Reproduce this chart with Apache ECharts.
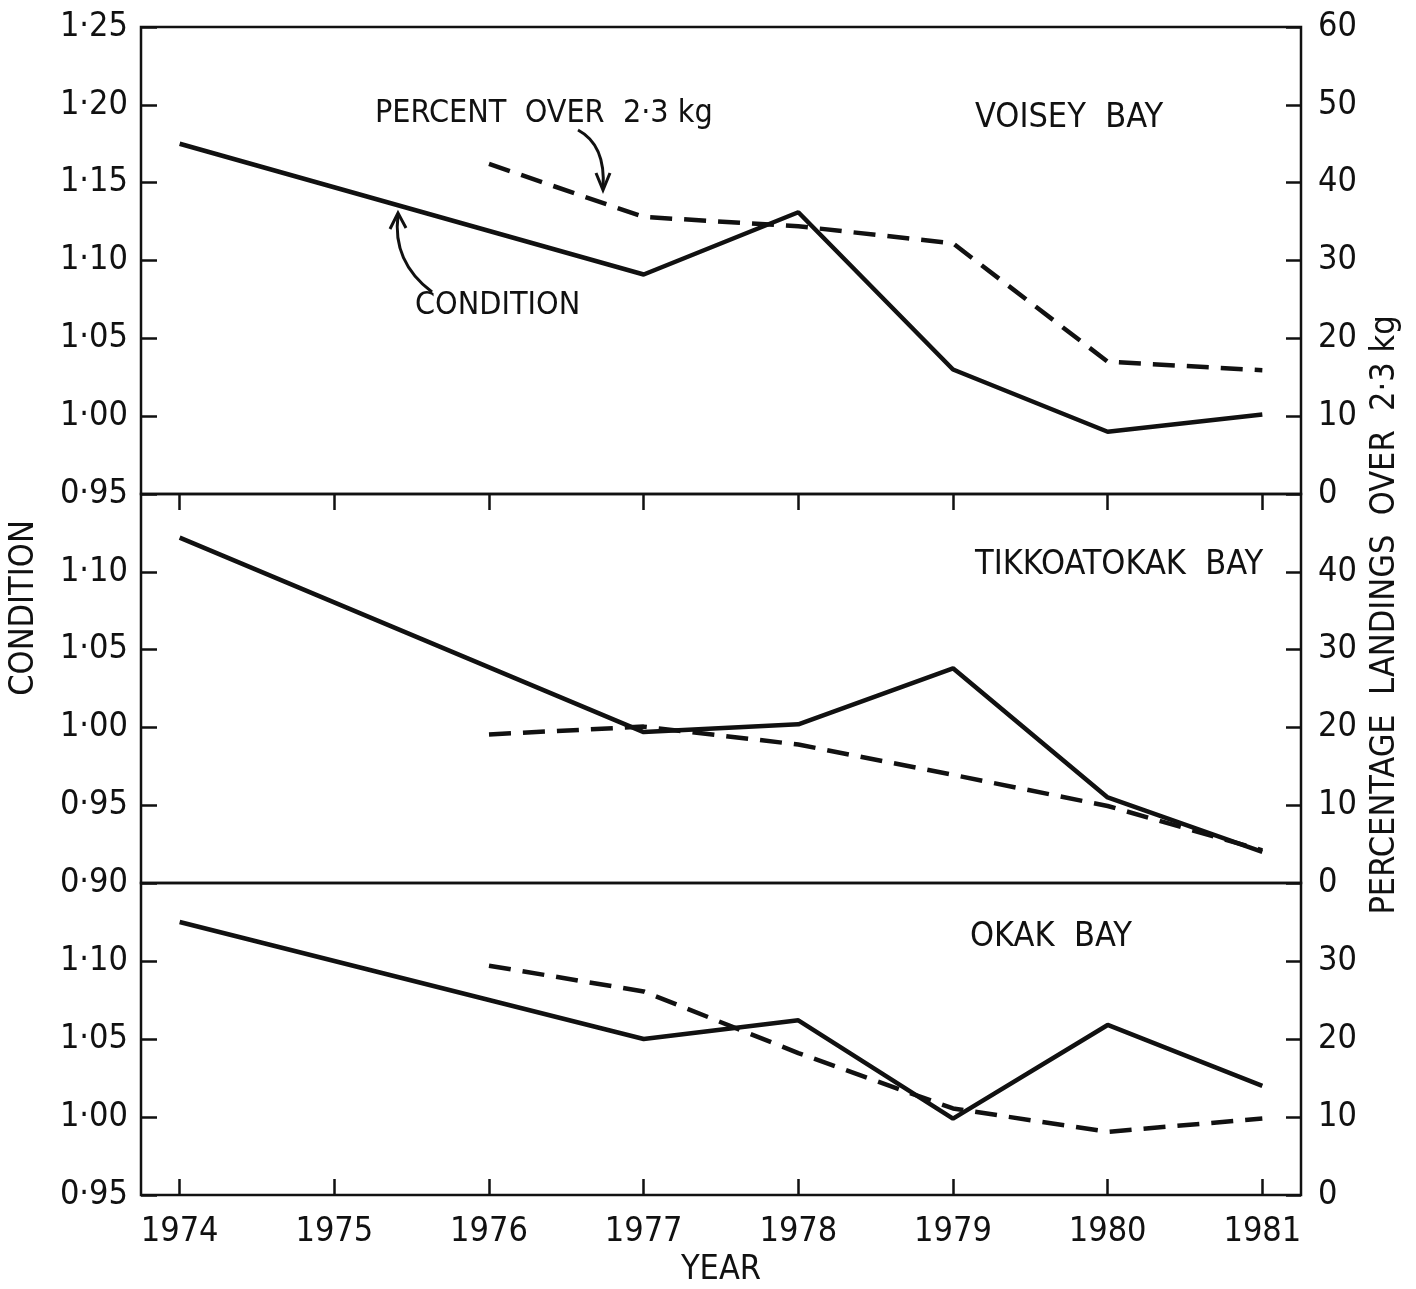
<!DOCTYPE html>
<html>
<head>
<meta charset="utf-8">
<title>Condition and percent landings over 2.3 kg</title>
<script src="https://cdn.jsdelivr.net/npm/echarts@6/dist/echarts.min.js"></script>
<style>
  html, body { margin: 0; padding: 0; background: #fff; }
  #chart { width: 1416px; height: 1289px; }
</style>
</head>
<body>
<div id="chart"></div>
<script>
// years on the shared x axis
const years = [1974, 1975, 1976, 1977, 1978, 1979, 1980, 1981]
const condYears = [1974, 1977, 1978, 1979, 1980, 1981]
const pctYears = [1976, 1977, 1978, 1979, 1980, 1981]

const bayNames = ['VOISEY BAY', 'TIKKOATOKAK BAY', 'OKAK BAY']

// condition (left axis) and percent over 2.3 kg (right axis)
const voiseyCondition = [1.175, 1.091, 1.131, 1.030, 0.990, 1.001]
const voiseyPercent = [42.4, 35.6, 34.4, 32.2, 17.0, 15.9]
const tikkCondition = [1.122, 0.997, 1.002, 1.038, 0.955, 0.920]
const tikkPercent = [19.1, 20.1, 17.8, 13.9, 9.9, 4.2]
const okakCondition = [1.125, 1.050, 1.062, 0.999, 1.059, 1.020]
const okakPercent = [29.4, 26.1, 18.2, 11.1, 8.1, 9.8]

// axis ranges for each panel
const conditionRanges = [[0.95, 1.25], [0.90, 1.15], [0.95, 1.15]]
const percentRanges = [[0, 60], [0, 50], [0, 40]]

const FONT = "'Liberation Sans Narrow', 'DejaVu Sans Condensed', 'DejaVu Sans', sans-serif"
const INK = '#111'

const panelTops = [27, 494, 883]
const panelHeights = [467, 389, 312]

const conditions = [voiseyCondition, tikkCondition, okakCondition]
const percents = [voiseyPercent, tikkPercent, okakPercent]

function pairs(xs, ys) {
  return xs.map((x, k) => [x, ys[k]])
}

const chart = echarts.init(document.getElementById('chart'))

const grid = panelTops.map((top, i) => ({
  left: 141,
  right: 115,
  top: top,
  height: panelHeights[i],
  show: true,
  borderColor: INK,
  borderWidth: 2.5,
  backgroundColor: 'transparent'
}))

const xAxis = panelTops.map((_, i) => ({
  type: 'value',
  gridIndex: i,
  min: 1973.75,
  max: 1981.25,
  position: i === 0 ? 'top' : 'bottom',
  axisLine: { show: false },
  axisTick: {
    show: i !== 1,
    inside: true,
    length: 16,
    customValues: years,
    lineStyle: { color: INK, width: 2.5 }
  },
  axisLabel: {
    show: i === 2,
    customValues: years,
    formatter: v => String(v),
    margin: 20,
    color: INK,
    fontSize: 34,
    fontFamily: FONT
  },
  splitLine: { show: false },
  name: i === 2 ? 'YEAR' : '',
  nameLocation: 'middle',
  nameGap: 58,
  nameTextStyle: { color: INK, fontSize: 34, fontFamily: FONT }
}))

const yAxis = []
panelTops.forEach((_, i) => {
  yAxis.push({
    type: 'value',
    gridIndex: i,
    position: 'left',
    min: conditionRanges[i][0],
    max: conditionRanges[i][1],
    interval: 0.05,
    axisLine: { show: false },
    axisTick: { inside: true, length: 16, lineStyle: { color: INK, width: 2.5 } },
    axisLabel: {
      showMaxLabel: i === 0,
      formatter: v => v.toFixed(2).replace('.', '·'),
      margin: 13,
      color: INK,
      fontSize: 34,
      fontFamily: FONT
    },
    splitLine: { show: false }
  })
  yAxis.push({
    type: 'value',
    gridIndex: i,
    position: 'right',
    min: percentRanges[i][0],
    max: percentRanges[i][1],
    interval: 10,
    axisLine: { show: false },
    axisTick: { inside: true, length: 15, lineStyle: { color: INK, width: 2.5 } },
    axisLabel: {
      showMaxLabel: i === 0,
      margin: 17,
      color: INK,
      fontSize: 34,
      fontFamily: FONT
    },
    splitLine: { show: false }
  })
})

const series = []
panelTops.forEach((_, i) => {
  series.push({
    name: bayNames[i] + ' condition',
    type: 'line',
    xAxisIndex: i,
    yAxisIndex: 2 * i,
    data: pairs(condYears, conditions[i]),
    showSymbol: false,
    silent: true,
    lineStyle: { color: INK, width: 4.5 }
  })
  series.push({
    name: bayNames[i] + ' percent',
    type: 'line',
    xAxisIndex: i,
    yAxisIndex: 2 * i + 1,
    data: pairs(pctYears, percents[i]),
    showSymbol: false,
    silent: true,
    lineStyle: { color: INK, width: 4.5, type: [22, 12] }
  })
})

function label(text, x, y, size, rotation) {
  return {
    type: 'text',
    x: x,
    y: y,
    rotation: rotation || 0,
    style: {
      text: text,
      fill: INK,
      fontSize: size,
      fontFamily: FONT,
      align: rotation ? 'center' : 'left',
      verticalAlign: 'middle'
    }
  }
}

const graphic = [
  label('CONDITION', 24, 608, 34, Math.PI / 2),
  label('PERCENTAGE  LANDINGS  OVER  2·3 kg', 1385, 615, 34, Math.PI / 2),
  label('VOISEY  BAY', 975, 118, 34),
  label('TIKKOATOKAK  BAY', 975, 565, 34),
  label('OKAK  BAY', 970, 937, 34),
  label('PERCENT  OVER  2·3 kg', 375, 114, 32),
  label('CONDITION', 415, 306, 32),
  // annotation arrows
  {
    type: 'bezierCurve',
    shape: { x1: 578, y1: 130, cpx1: 606, cpy1: 145, x2: 603, y2: 188 },
    style: { stroke: INK, lineWidth: 3, fill: null }
  },
  {
    type: 'polyline',
    shape: { points: [[596, 173], [603, 190], [610, 173]] },
    style: { stroke: INK, lineWidth: 3, fill: null }
  },
  {
    type: 'bezierCurve',
    shape: { x1: 432, y1: 292, cpx1: 392, cpy1: 262, x2: 398, y2: 215 },
    style: { stroke: INK, lineWidth: 3, fill: null }
  },
  {
    type: 'polyline',
    shape: { points: [[390, 229], [398, 213], [406, 228]] },
    style: { stroke: INK, lineWidth: 3, fill: null }
  }
]

chart.setOption({
  backgroundColor: '#fff',
  animation: false,
  grid: grid,
  xAxis: xAxis,
  yAxis: yAxis,
  series: series,
  graphic: graphic
})

window.addEventListener('resize', () => {
  chart.resize()
})
</script>
</body>
</html>
